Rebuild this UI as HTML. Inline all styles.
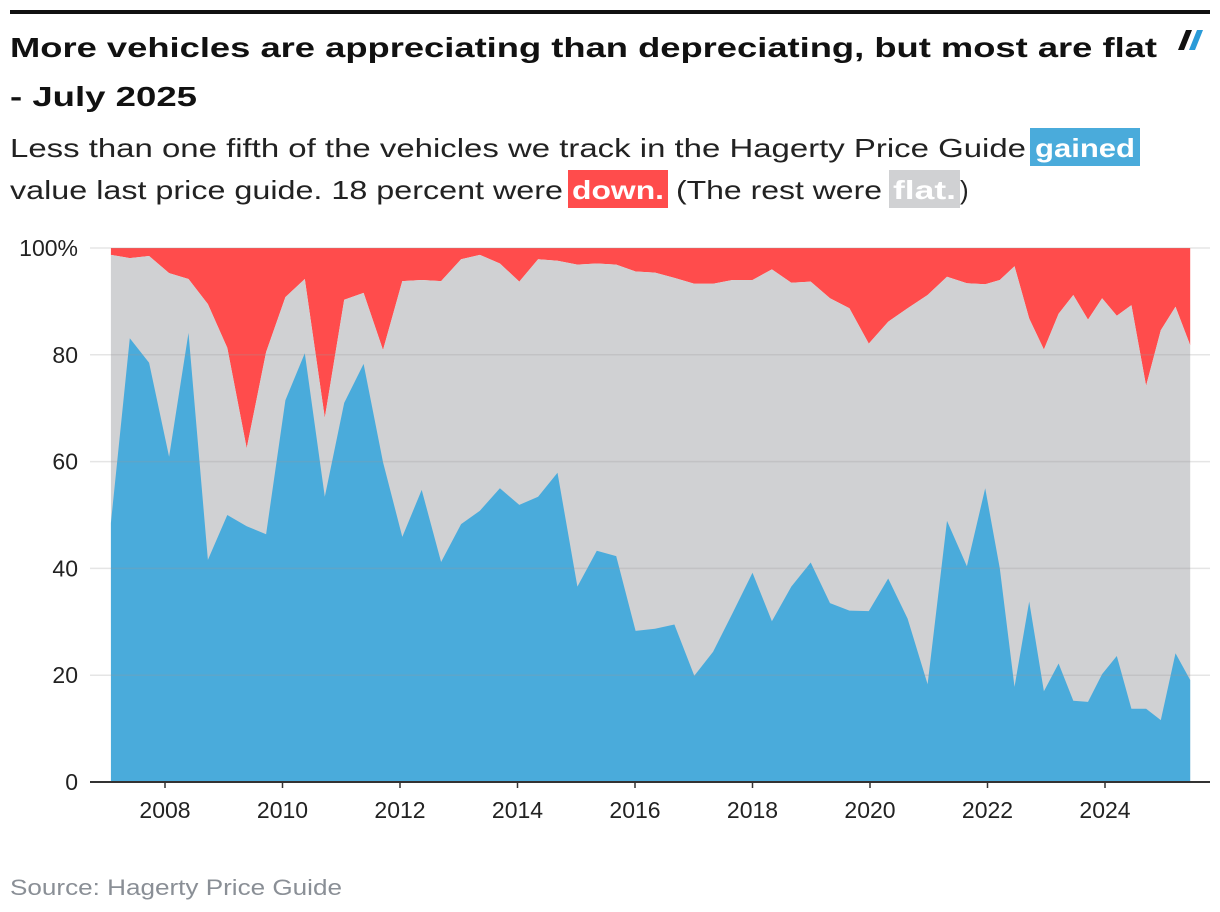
<!DOCTYPE html>
<html><head><meta charset="utf-8"><style>
body{margin:0;background:#fff;}
svg{display:block;font-family:"Liberation Sans",sans-serif;}
</style></head><body>
<svg id="chart" width="1220" height="912" viewBox="0 0 1220 912" xmlns="http://www.w3.org/2000/svg">
<rect x="10" y="10" width="1200" height="4" fill="#111"/>
<g>
<polygon points="1186,30 1192,30 1184,50 1178,50" fill="#111"/>
<polygon points="1197,30 1203,30 1195,50 1189,50" fill="#2a9bd8"/>
</g>
<text x="10" y="57" font-size="28" font-weight="bold" fill="#111" textLength="1147" lengthAdjust="spacingAndGlyphs">More vehicles are appreciating than depreciating, but most are flat</text>
<text x="10" y="106" font-size="28" font-weight="bold" fill="#111" textLength="187" lengthAdjust="spacingAndGlyphs">- July 2025</text>
<g font-size="26" fill="#222">
<text x="10" y="157" textLength="1016" lengthAdjust="spacingAndGlyphs">Less than one fifth of the vehicles we track in the Hagerty Price Guide</text>
<rect x="1030" y="128" width="110" height="38" fill="#4aabdb"/>
<text x="1035" y="157" fill="#fff" font-weight="bold" textLength="100" lengthAdjust="spacingAndGlyphs">gained</text>
<text x="10" y="199" textLength="553" lengthAdjust="spacingAndGlyphs">value last price guide. 18 percent were</text>
<rect x="568" y="170" width="100" height="38" fill="#ff4c4c"/>
<text x="572" y="199" fill="#fff" font-weight="bold" textLength="92" lengthAdjust="spacingAndGlyphs">down.</text>
<text x="676" y="199" textLength="206" lengthAdjust="spacingAndGlyphs">(The rest were</text>
<rect x="889" y="170" width="71" height="38" fill="#d0d1d3"/>
<text x="893" y="199" fill="#fff" font-weight="bold" textLength="63" lengthAdjust="spacingAndGlyphs">flat.</text>
<text x="960" y="199">)</text>
</g>
<g id="plot"></g>
<text x="10" y="895" font-size="22" fill="#8a8f96" textLength="332" lengthAdjust="spacingAndGlyphs">Source: Hagerty Price Guide</text>
</svg>
<script>
const dates=[2007.08,2007.40,2007.73,2008.07,2008.40,2008.73,2009.06,2009.39,2009.72,2010.05,2010.38,2010.72,2011.05,2011.38,2011.71,2012.04,2012.37,2012.70,2013.04,2013.36,2013.70,2014.03,2014.35,2014.68,2015.02,2015.35,2015.68,2016.01,2016.34,2016.67,2017.01,2017.33,2017.66,2018.00,2018.33,2018.66,2018.99,2019.32,2019.65,2019.98,2020.31,2020.64,2020.98,2021.31,2021.65,2021.96,2022.21,2022.46,2022.71,2022.96,2023.21,2023.46,2023.71,2023.95,2024.20,2024.45,2024.70,2024.95,2025.20,2025.45];
const gained=[48.5,83.1,78.5,60.9,84.1,41.6,50.0,47.9,46.4,71.5,80.3,53.4,71.0,78.3,59.9,45.9,54.7,41.2,48.3,50.8,55.0,51.9,53.4,57.9,36.6,43.3,42.3,28.3,28.7,29.5,19.9,24.4,31.6,39.2,30.1,36.6,41.1,33.5,32.1,32.0,38.1,30.6,18.3,48.9,40.4,55.0,40.0,17.8,33.8,17.0,22.2,15.2,15.0,20.2,23.6,13.7,13.7,11.6,24.1,19.1];
const down=[1.3,1.9,1.5,4.7,5.8,10.5,18.7,37.5,19.5,9.2,5.8,31.8,9.7,8.4,19.1,6.2,6.0,6.2,2.1,1.3,2.9,6.3,2.1,2.4,3.1,2.9,3.1,4.4,4.6,5.6,6.7,6.7,6.0,6.0,4.0,6.5,6.3,9.4,11.3,17.9,13.8,11.3,8.8,5.4,6.6,6.8,6.0,3.4,13.2,19.0,12.3,8.8,13.4,9.4,12.7,10.7,25.8,15.4,11.0,18.2];
const yTicks=[0,20,40,60,80,100];
const yLabels=["0","20","40","60","80","100%"];
const xTicks=[2008,2010,2012,2014,2016,2018,2020,2022,2024];

const NS="http://www.w3.org/2000/svg";
const plot=document.getElementById('plot');
const X=d=>165+(d-2008)*58.75;
const Y=v=>782-v*5.34;
function mk(tag,attrs){const e=document.createElementNS(NS,tag);for(const k in attrs)e.setAttribute(k,attrs[k]);plot.appendChild(e);return e;}
const x0=X(dates[0]),x1=X(dates[dates.length-1]);
let rp='M'+x0+','+Y(100);
dates.forEach((d,i)=>{rp+=' L'+X(d).toFixed(1)+','+Y(100-down[i]).toFixed(1);});
rp+=' L'+x1+','+Y(100)+' Z';
const red=mk('path',{d:rp,fill:'#ff4c4c'});


let fp='M'+x0+','+Y(0);
dates.forEach((d,i)=>{fp+=' L'+X(d).toFixed(1)+','+Y(100-down[i]).toFixed(1);});
fp+=' L'+x1+','+Y(0)+' Z';
const flat=mk('path',{d:fp,fill:'#d0d1d3'});


let gp='M'+x0+','+Y(0);
dates.forEach((d,i)=>{gp+=' L'+X(d).toFixed(1)+','+Y(gained[i]).toFixed(1);});
gp+=' L'+x1+','+Y(0)+' Z';
const g=mk('path',{d:gp,fill:'#4aabdb'});


yTicks.forEach((t,i)=>{
  if(t>0){const l=mk('line',{x1:90,x2:1210,y1:Y(t),y2:Y(t),stroke:'rgba(150,150,150,0.25)','stroke-width':1.5});
  
  }
  const tx=mk('text',{x:78,y:Y(t)+8,'font-size':23,fill:'#222','text-anchor':'end'});
  tx.textContent=yLabels[i];
  
  
});
const base=mk('line',{x1:90,x2:1210,y1:Y(0),y2:Y(0),stroke:'#333','stroke-width':2});


xTicks.forEach(t=>{
  const tk=mk('line',{x1:X(t),x2:X(t),y1:Y(0),y2:Y(0)+6,stroke:'#333','stroke-width':1.5});
  
  
  const tx=mk('text',{x:X(t),y:818,'font-size':23,fill:'#222','text-anchor':'middle'});
  tx.textContent=t;
  
  
});
</script>
</body></html>
